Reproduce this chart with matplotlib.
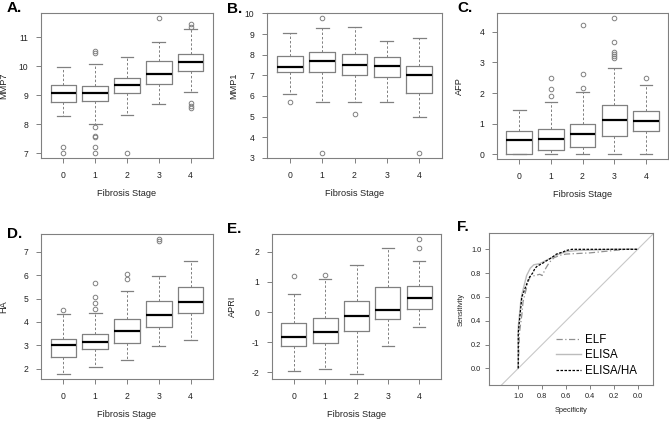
import matplotlib
matplotlib.use('Agg')
import matplotlib.pyplot as plt

plt.rcParams['font.family'] = ['Liberation Sans', 'DejaVu Sans']
plt.rcParams['axes.unicode_minus'] = False

W, H = 669, 422
stages = [0, 1, 2, 3, 4]

# A. MMP7
mmp7_med = [9.09, 9.07, 9.36, 9.74, 10.15]
mmp7_q1 = [8.76, 8.80, 9.09, 9.38, 9.84]
mmp7_q3 = [9.36, 9.33, 9.61, 10.20, 10.43]
mmp7_lo = [8.30, 8.00, 8.32, 8.70, 9.13]
mmp7_hi = [9.97, 10.10, 10.31, 10.85, 11.28]
mmp7_out = [[7.23, 7.02], [10.52, 10.48, 7.92, 7.60, 7.55, 7.23, 7.02],
            [7.02], [11.66], [11.48, 11.37, 8.72, 8.63, 8.55]]

# B. MMP1
mmp1_med = [7.42, 7.69, 7.50, 7.46, 7.00]
mmp1_q1 = [7.14, 7.17, 7.01, 6.91, 6.12]
mmp1_q3 = [7.95, 8.14, 8.01, 7.87, 7.46]
mmp1_lo = [6.09, 5.69, 5.69, 5.69, 4.99]
mmp1_hi = [9.03, 9.27, 9.35, 8.68, 8.79]
mmp1_out = [[5.69], [9.76, 3.25], [5.12], [], [3.25]]

# C. AFP
afp_med = [0.46, 0.49, 0.66, 1.11, 1.07]
afp_q1 = [0.02, 0.15, 0.25, 0.61, 0.76]
afp_q3 = [0.745, 0.84, 0.99, 1.61, 1.41]
afp_lo = [0.02, 0.02, 0.02, 0.02, 0.02]
afp_hi = [1.46, 1.70, 2.05, 2.83, 2.25]
afp_out = [[], [2.50, 2.13, 1.91], [4.24, 2.63, 2.16],
           [4.44, 3.67, 3.35, 3.29, 3.21, 3.15], [2.50]]

# D. HA
ha_med = [3.01, 3.15, 3.63, 4.30, 4.87]
ha_q1 = [2.50, 2.84, 3.08, 3.79, 4.37]
ha_q3 = [3.26, 3.48, 4.12, 4.88, 5.48]
ha_lo = [1.79, 2.07, 2.38, 2.97, 3.22]
ha_hi = [4.36, 4.40, 5.31, 5.96, 6.59]
ha_out = [[4.53], [5.65, 5.05, 4.80, 4.54], [6.05, 5.85], [7.53, 7.45], []]

# E. APRI
apri_med = [-0.81, -0.65, -0.13, 0.08, 0.48]
apri_q1 = [-1.11, -1.02, -0.63, -0.24, 0.09]
apri_q3 = [-0.37, -0.18, 0.38, 0.82, 0.88]
apri_lo = [-1.96, -1.88, -2.04, -1.11, -0.49]
apri_hi = [0.60, 1.11, 1.56, 2.13, 1.68]
apri_out = [[1.18], [1.22], [], [], [2.41, 2.14]]

# F. ROC curves (specificity, sensitivity)
elf_spec = [1.0, 0.99, 0.97, 0.96, 0.94, 0.92, 0.90, 0.86, 0.82, 0.80, 0.77,
            0.74, 0.70, 0.65, 0.60, 0.40, 0.30, 0.10, 0.0]
elf_sens = [0.0, 0.30, 0.45, 0.56, 0.64, 0.72, 0.77, 0.78, 0.79, 0.78, 0.84,
            0.89, 0.93, 0.95, 0.96, 0.97, 0.98, 1.0, 1.0]
elisa_spec = [1.0, 1.0, 0.98, 0.97, 0.95, 0.93, 0.90, 0.87, 0.82, 0.78, 0.72,
              0.66, 0.60, 0.50, 0.20, 0.0]
elisa_sens = [0.0, 0.35, 0.55, 0.62, 0.70, 0.78, 0.84, 0.87, 0.88, 0.90, 0.93,
              0.96, 0.98, 0.99, 1.0, 1.0]
elisaha_spec = [1.0, 1.0, 0.98, 0.97, 0.94, 0.91, 0.88, 0.86, 0.84, 0.80, 0.77,
                0.72, 0.68, 0.62, 0.60, 0.55, 0.0]
elisaha_sens = [0.0, 0.30, 0.50, 0.60, 0.68, 0.76, 0.80, 0.84, 0.86, 0.88, 0.90,
                0.93, 0.96, 0.98, 0.99, 1.0, 1.0]

GRAY = '#808080'
TXT = '#222222'


def px_axes(fig, x0, y0, x1, y1):
    """Add axes from pixel box (top-left origin)."""
    return fig.add_axes([x0 / W, 1 - y1 / H, (x1 - x0) / W, (y1 - y0) / H])


def style_axes(ax, fs=6.2, pad=5.5):
    for sp in ax.spines.values():
        sp.set_color(GRAY)
        sp.set_linewidth(0.8)
    ax.tick_params(colors=GRAY, labelcolor=TXT, labelsize=fs, length=3.6,
                   width=0.7, pad=pad)


def boxpanel(ax, med, q1, q3, lo, hi, out, ylabel, yticks, ylab_px, x0, w):
    stats = []
    for i in range(len(stages)):
        stats.append(dict(med=med[i], q1=q1[i], q3=q3[i], whislo=lo[i],
                          whishi=hi[i], fliers=out[i]))
    ax.bxp(stats, positions=stages, widths=0.8, capwidths=0.4,
           boxprops=dict(color=GRAY, linewidth=0.9),
           medianprops=dict(color='black', linewidth=1.6),
           whiskerprops=dict(color=GRAY, linewidth=0.7, linestyle=(0, (2.5, 2))),
           capprops=dict(color=GRAY, linewidth=0.9),
           flierprops=dict(marker='o', markersize=3.3, markerfacecolor='none',
                           markeredgecolor=GRAY, markeredgewidth=0.7))
    vals = lo + hi + [v for o in out for v in o]
    ymin, ymax = min(vals), max(vals)
    pad = 0.04 * (ymax - ymin)
    ax.set_ylim(ymin - pad, ymax + pad)
    ax.set_xlim(-0.7, 4.7)
    ax.set_yticks(yticks)
    ax.set_xticks(stages)
    ax.set_xticklabels([str(s) for s in stages])
    style_axes(ax)
    ax.set_xlabel('Fibrosis Stage', fontsize=6.6, color=TXT, labelpad=7)
    ax.set_ylabel(ylabel, fontsize=6.6, color=TXT)
    ax.yaxis.set_label_coords((ylab_px - x0) / w, 0.5)


fig = plt.figure(figsize=(W / 100, H / 100), dpi=100)

axA = px_axes(fig, 41, 13, 213, 158)
boxpanel(axA, mmp7_med, mmp7_q1, mmp7_q3, mmp7_lo, mmp7_hi, mmp7_out,
         'MMP7', [7, 8, 9, 10, 11], 8.5, 41, 172)
axB = px_axes(fig, 267, 13, 442, 158)
boxpanel(axB, mmp1_med, mmp1_q1, mmp1_q3, mmp1_lo, mmp1_hi, mmp1_out,
         'MMP1', list(range(3, 11)), 238, 267, 175)
axC = px_axes(fig, 497, 13, 668, 159)
boxpanel(axC, afp_med, afp_q1, afp_q3, afp_lo, afp_hi, afp_out,
         'AFP', [0, 1, 2, 3, 4], 464, 497, 171)
axD = px_axes(fig, 41, 234, 213, 379)
boxpanel(axD, ha_med, ha_q1, ha_q3, ha_lo, ha_hi, ha_out,
         'HA', [2, 3, 4, 5, 6, 7], 8, 41, 172)
axE = px_axes(fig, 272, 234, 441, 379)
boxpanel(axE, apri_med, apri_q1, apri_q3, apri_lo, apri_hi, apri_out,
         'APRI', [-2, -1, 0, 1, 2], 237, 272, 169)

# ROC panel
axF = px_axes(fig, 489, 233, 653, 385)
axF.axline((1, 0), (0, 1), color='#c8c8c8', linewidth=0.8)
axF.plot(elf_spec, elf_sens, color='#909090', linewidth=0.9,
         linestyle=(0, (5, 2, 1, 2)), label='ELF')
axF.plot(elisa_spec, elisa_sens, color='#bcbcbc', linewidth=1.0,
         linestyle='-', label='ELISA')
axF.plot(elisaha_spec, elisaha_sens, color='black', linewidth=0.9,
         linestyle=(0, (2, 1.2)), label='ELISA/HA')
axF.set_xlim(1.245, -0.128)
axF.set_ylim(-0.14, 1.137)
ticks = [0.0, 0.2, 0.4, 0.6, 0.8, 1.0]
axF.set_xticks(ticks)
axF.set_yticks(ticks)
axF.set_xticklabels(['%.1f' % t for t in ticks])
axF.set_yticklabels(['%.1f' % t for t in ticks])
style_axes(axF, fs=5.3, pad=2.5)
axF.tick_params(length=3)
axF.set_xlabel('Specificity', fontsize=5.3, color=TXT, labelpad=5)
axF.set_ylabel('Sensitivity', fontsize=5.3, color=TXT)
axF.yaxis.set_label_coords((465 - 489) / 164, 0.5)
axF.legend(loc='lower right', bbox_to_anchor=(0.965, -0.015), frameon=False,
           fontsize=8.3, handlelength=2.2, handletextpad=0.35, labelspacing=0.3)

# panel letters
for lab, x, y in [('A.', 7, 1), ('B.', 227, 2), ('C.', 457, 1),
                  ('D.', 7, 227), ('E.', 227, 222), ('F.', 457, 220)]:
    fig.text(x / W, 1 - y / H, lab, fontsize=11, fontweight='bold',
             ha='left', va='top')

fig.savefig('out.png', dpi=100)
